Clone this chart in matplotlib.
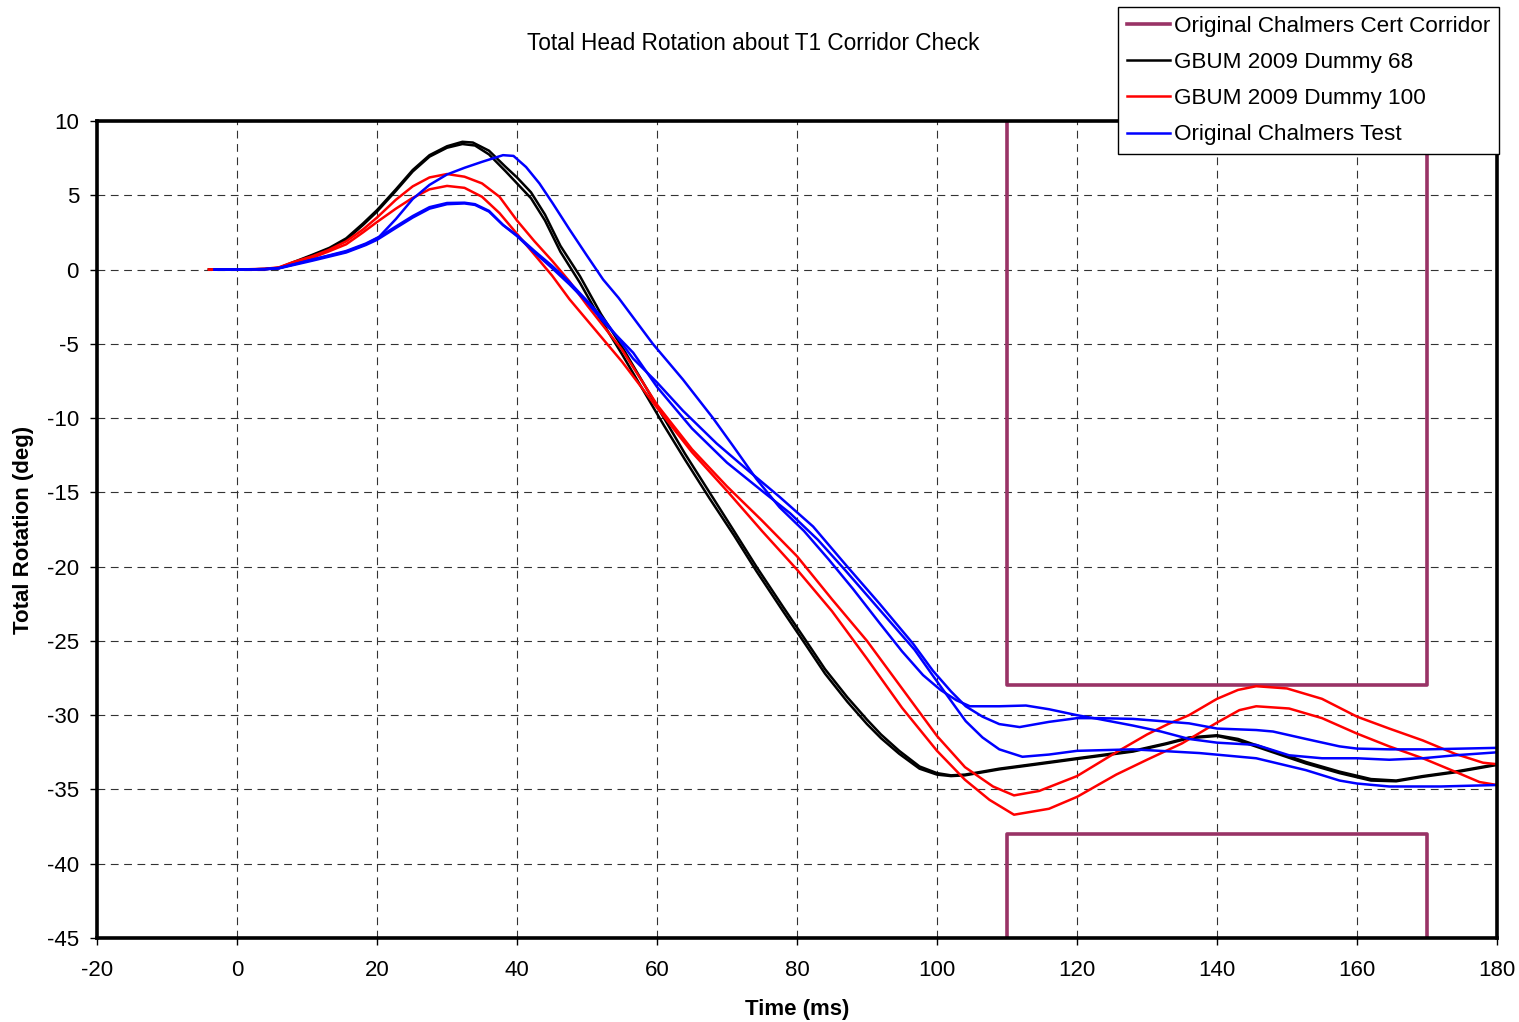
import matplotlib
matplotlib.use('Agg')
import matplotlib.pyplot as plt
import numpy as np

plt.rcParams['font.family'] = ['Liberation Sans', 'DejaVu Sans']
plt.rcParams['axes.unicode_minus'] = False

# corridor (upper and lower boxes)
corr_up_t = [110, 110, 170, 170]
corr_up_y = [10, -28, -28, 10]
corr_lo_t = [110, 110, 170, 170]
corr_lo_y = [-45, -38, -38, -45]

# GBUM 2009 Dummy 68 (two runs)
d68a_t = [-4, 0, 4, 6, 8.4, 10.8, 13.2, 15.6, 18, 20, 22.7, 25.1, 27.5, 30, 32.2, 33.7, 36, 38.4, 40, 42, 44, 46.2,
          49, 52, 55, 58, 61, 64, 67.5, 71, 74.2, 78, 81.3, 84, 87.2, 90, 92, 94.6, 97.5, 100, 102, 104, 108.9,
          113.7, 120, 128, 132.7, 136, 140, 143, 148, 152.7, 157.5, 162, 165.6, 169.4, 174, 180]
d68a_y = [0, 0, 0.03, 0.12, 0.56, 1.0, 1.46, 2.1, 3.1, 4.0, 5.4, 6.7, 7.7, 8.3, 8.6, 8.55, 8.0, 6.9, 6.2, 5.2, 3.7, 1.6,
          -0.45, -3.0, -5.2, -7.6, -10.0, -12.4, -15.0, -17.6, -20.0, -22.7, -25.0, -26.9, -28.8, -30.3, -31.3, -32.4,
          -33.45, -33.9, -34.05, -34.0, -33.6, -33.3, -32.9, -32.4, -31.9, -31.5, -31.35, -31.6, -32.4, -33.15, -33.8,
          -34.3, -34.4, -34.1, -33.8, -33.3]
d68b_t = [-4, 0, 4, 6, 8.4, 10.8, 13.2, 15.6, 18, 20, 22.7, 25.1, 27.5, 30, 32.2, 34, 36, 38.4, 40, 42, 44, 46.2,
          49, 52, 55, 58, 61, 64, 67.5, 71, 74.2, 78, 81.3, 84, 87.2, 90, 92, 94.6, 97.5, 100, 102, 104, 108.9,
          113.7, 120, 128, 132.7, 136, 140, 143, 148, 152.7, 157.5, 162, 165.6, 169.4, 174, 180]
d68b_y = [0, 0, 0.03, 0.1, 0.5, 0.95, 1.4, 2.0, 3.0, 3.9, 5.3, 6.6, 7.6, 8.2, 8.45, 8.35, 7.75, 6.6, 5.8, 4.8, 3.3, 1.2,
          -0.9, -3.4, -5.7, -8.1, -10.5, -12.8, -15.4, -17.9, -20.3, -23.0, -25.3, -27.2, -29.1, -30.6, -31.55, -32.6,
          -33.6, -34.0, -34.1, -34.05, -33.65, -33.35, -32.95, -32.45, -31.95, -31.55, -31.4, -31.7, -32.5, -33.25,
          -33.9, -34.4, -34.45, -34.15, -33.85, -33.35]

# GBUM 2009 Dummy 100 (two runs)
d100a_t = [-4, 0, 4, 6, 8, 10.8, 13, 15.6, 18, 20, 22.7, 25.1, 27.5, 30, 32.5, 35, 37.5, 40, 42.5, 45, 47.5, 50,
           55, 60, 65, 70, 75, 80, 85, 90, 95, 100, 104, 108, 111, 114.6, 120, 125.6, 130, 133, 136, 140, 143,
           145.6, 150, 155, 160, 164.6, 169.4, 174, 178, 180]
d100a_y = [0, 0, 0.05, 0.15, 0.5, 0.9, 1.3, 1.9, 2.7, 3.5, 4.7, 5.6, 6.2, 6.43, 6.25, 5.8, 4.9, 3.3, 1.9, 0.6, -0.8,
           -2.4, -5.4, -9.1, -12.1, -14.6, -16.9, -19.3, -22.2, -25.0, -28.2, -31.4, -33.5, -34.8, -35.4, -35.1,
           -34.1, -32.5, -31.3, -30.6, -30.0, -28.9, -28.3, -28.05, -28.2, -28.9, -30.1, -30.9, -31.7, -32.6, -33.2,
           -33.3]
d100b_t = [-4, 0, 4, 6, 8, 10.8, 13, 15.6, 18, 20, 22.7, 25, 27.5, 30, 32.5, 35, 37.5, 40, 42.5, 45, 47.5, 50,
           55, 60, 65, 70, 75, 80, 85, 90, 95, 100, 104, 107.5, 111, 116, 120, 125.6, 130, 135, 140, 143.2, 145.6,
           150.3, 155, 160, 164.6, 169.4, 174, 177.5, 180]
d100b_y = [0, 0, 0.03, 0.1, 0.4, 0.8, 1.2, 1.7, 2.5, 3.2, 4.1, 4.8, 5.4, 5.63, 5.5, 4.9, 3.8, 2.4, 1.0, -0.4, -2.0,
           -3.4, -6.2, -9.3, -12.3, -14.9, -17.6, -20.2, -23.0, -26.2, -29.5, -32.4, -34.35, -35.7, -36.7, -36.3,
           -35.5, -34.0, -33.0, -31.9, -30.5, -29.66, -29.4, -29.55, -30.2, -31.24, -32.1, -32.9, -33.8, -34.5, -34.7]

# Original Chalmers Test (three runs)
test1_t = [-3.2, 0, 4, 6, 10.8, 15.6, 18.4, 20.3, 22.7, 25.1, 27.5, 30, 32.5, 35, 38, 39.5, 41.3, 43.2, 45.1, 47.5,
           49.9, 52.3, 54.5, 59.4, 63.7, 68, 70.9, 74.2, 77.5, 81, 84.5, 88, 91.8, 95, 98, 100.5, 102.8, 104.7, 108.9,
           112.7, 116, 120, 123, 128, 132, 136, 140, 145.6, 150.3, 155, 160, 164.6, 169.4, 174, 180]
test1_y = [0, 0, 0.03, 0.1, 0.67, 1.25, 1.75, 2.2, 3.4, 4.75, 5.7, 6.4, 6.85, 7.25, 7.7, 7.65, 6.9, 5.8, 4.46, 2.7,
           1.0, -0.67, -1.9, -5.0, -7.4, -10.0, -11.9, -14.1, -16.0, -17.6, -19.5, -21.5, -23.8, -25.7, -27.3, -28.3,
           -29.0, -29.4, -29.4, -29.35, -29.6, -30.0, -30.25, -30.7, -31.1, -31.6, -31.85, -32.0, -32.7, -32.9, -32.9,
           -33.0, -32.9, -32.7, -32.5]
test2_t = [-3.2, 0, 4, 6, 10.8, 15.6, 18.4, 20, 22.7, 25.1, 27.5, 30, 32.5, 34, 36, 38, 40, 42.5, 45, 47.5, 50,
           52.5, 56.6, 60, 63.7, 68.5, 73.2, 77.5, 82.3, 87, 91.8, 96.6, 99.4, 102, 104.1, 106.5, 108.9, 111.8, 116,
           120, 123, 128, 132, 136, 140, 145.6, 148, 152.7, 157.5, 160, 164.6, 170, 180]
test2_y = [0, 0, 0.03, 0.1, 0.67, 1.2, 1.7, 2.1, 2.9, 3.6, 4.2, 4.48, 4.5, 4.4, 3.95, 3.0, 2.3, 1.25, 0.25, -0.85,
           -2.1, -3.4, -6.0, -7.6, -9.5, -11.7, -13.6, -15.3, -17.3, -19.9, -22.5, -25.2, -27.0, -28.4, -29.4, -30.1,
           -30.6, -30.8, -30.45, -30.2, -30.2, -30.25, -30.4, -30.55, -30.9, -31.0, -31.1, -31.6, -32.1, -32.25,
           -32.3, -32.3, -32.2]
test3_t = [-3.2, 0, 4, 6, 10.8, 15.6, 18.4, 20, 22.7, 25.1, 27.5, 30, 32.5, 34, 36, 38, 40, 42.5, 45, 47.5, 50,
           52.5, 56.6, 60, 65, 70, 75, 79, 83, 87, 91.8, 96.8, 99.5, 101.8, 104.1, 106.5, 108.9, 112.2, 116, 120, 128,
           137.5, 145.6, 152.7, 157.5, 160, 164.6, 172, 180]
test3_y = [0, 0, 0.02, 0.08, 0.6, 1.15, 1.65, 2.0, 2.8, 3.5, 4.1, 4.4, 4.45, 4.35, 3.9, 3.0, 2.25, 1.15, 0.1, -1.0,
           -2.2, -3.6, -5.6, -7.9, -10.7, -13.0, -14.9, -16.4, -18.2, -20.3, -22.9, -25.6, -27.4, -28.9, -30.4, -31.5,
           -32.3, -32.8, -32.65, -32.4, -32.3, -32.55, -32.9, -33.7, -34.4, -34.6, -34.8, -34.8, -34.7]

x_ticks = list(range(-20, 181, 20))
y_ticks = list(range(-45, 11, 5))

fig = plt.figure(figsize=(15.19, 10.22), dpi=100)
ax = fig.add_axes([97/1519, 1-938/1022, 1400/1519, 817/1022])

corr_col = '#993366'
li_corr, = ax.plot(corr_up_t, corr_up_y, color=corr_col, lw=2.6, label='Original Chalmers Cert Corridor', zorder=3)
ax.plot(corr_lo_t, corr_lo_y, color=corr_col, lw=2.6, zorder=3)
li_68, = ax.plot(d68a_t, d68a_y, color='black', lw=1.8, label='GBUM 2009 Dummy 68', zorder=4)
ax.plot(d68b_t, d68b_y, color='black', lw=1.8, zorder=4)
li_100, = ax.plot(d100a_t, d100a_y, color='#ff0000', lw=1.8, label='GBUM 2009 Dummy 100', zorder=5)
ax.plot(d100b_t, d100b_y, color='#ff0000', lw=1.8, zorder=5)
li_test, = ax.plot(test1_t, test1_y, color='#0000ff', lw=1.8, label='Original Chalmers Test', zorder=6)
ax.plot(test2_t, test2_y, color='#0000ff', lw=1.8, zorder=6)
ax.plot(test3_t, test3_y, color='#0000ff', lw=1.8, zorder=6)

ax.set_xlim(-20, 180)
ax.set_ylim(-45, 10)
ax.set_xticks(x_ticks)
ax.set_yticks(y_ticks)
ax.tick_params(labelsize=16, length=5, width=1, direction='out')
ax.tick_params(axis='x', pad=11)
ax.tick_params(axis='y', pad=8)
ax.grid(True, color='#333333', lw=0.8, linestyle=(0, (7, 5)))
ax.set_axisbelow(True)
for s in ax.spines.values():
    s.set_linewidth(2.6)
    s.set_zorder(7)

fig.text(753/1519, 1-44/1022, 'Total Head Rotation about T1 Corridor Check', ha='center', va='center', fontsize=16.3)
fig.text(797/1519, 1-1009/1022, 'Time (ms)', ha='center', va='center', fontsize=16, fontweight='bold')
fig.text(24/1519, 1-530/1022, 'Total Rotation (deg)', ha='center', va='center', rotation=90,
         fontsize=16, fontweight='bold')

leg = fig.legend(handles=[li_corr, li_68, li_100, li_test], loc='upper right',
                 bbox_to_anchor=(1499/1519, 1-7/1022), fontsize=16.2, frameon=True, fancybox=False,
                 edgecolor='black', framealpha=1, borderpad=0.38, labelspacing=0.68, handlelength=1.9,
                 handletextpad=0.2, borderaxespad=0)
leg.get_frame().set_linewidth(1.0)

fig.savefig('out.png', dpi=100)
